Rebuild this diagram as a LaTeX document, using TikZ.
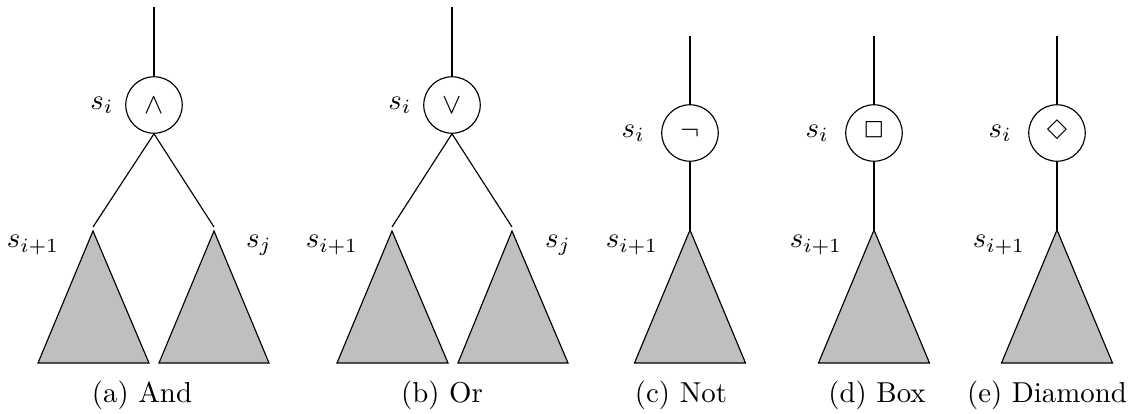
\documentclass[tikz,border=0pt]{standalone}
\usepackage{amsmath, latexsym}
\usepackage{tikz}
\usetikzlibrary{positioning}

\tikzset{
  op/.style={circle, draw, minimum size=19.6pt, inner sep=0pt},
  subtree/.style={draw, fill=black!25},
  lbl/.style={inner sep=0pt}
}

\begin{document}
\begin{tikzpicture}[x=0.347pt, y=-0.347pt]
  \useasboundingbox (0,0) rectangle (1139,414);

  % (a) And
  \coordinate (atop) at (154,7);
  \node[op] (aop) at (154,105) {$\wedge$};
  \node[lbl] (asi) at (102,105) {$s_i$};
  \coordinate (al) at (93,227);
  \coordinate (ar) at (214,227);
  \draw (atop) -- (aop);
  \draw (aop.south) -- (al);
  \draw (aop.south) -- (ar);
  \filldraw[subtree] (93,231) -- (149,363) -- (38,363) -- cycle;
  \filldraw[subtree] (214,231) -- (269,363) -- (159,363) -- cycle;
  \node[lbl] (asl) at (33,245) {$s_{i+1}$};
  \node[lbl] (asr) at (259,245) {$s_j$};
  \node (acap) at (142,395) {(a) And};

  % (b) Or
  \coordinate (btop) at (452,7);
  \node[op] (bop) at (452,105) {$\vee$};
  \node[lbl] (bsi) at (400,105) {$s_i$};
  \coordinate (bl) at (392,227);
  \coordinate (br) at (512,227);
  \draw (btop) -- (bop);
  \draw (bop.south) -- (bl);
  \draw (bop.south) -- (br);
  \filldraw[subtree] (392,231) -- (448,363) -- (337,363) -- cycle;
  \filldraw[subtree] (512,231) -- (568,363) -- (458,363) -- cycle;
  \node[lbl] (bsl) at (332,245) {$s_{i+1}$};
  \node[lbl] (bsr) at (558,245) {$s_j$};
  \node (bcap) at (442,395) {(b) Or};

  % (c)--(e) unary operators
  \foreach \n/\x/\sym/\capx/\capt in {c/690/\neg/681/(c) Not, d/874/\Box/877/(d) Box, e/1057/\Diamond/1047/(e) Diamond}{
    \coordinate (\n top) at (\x,36);
    \node[op] (\n op) at (\x,133) {$\sym$};
    \node[lbl, left=16*0.347pt of \n op] (\n si) {$s_i$};
    \coordinate (\n c) at (\x,230);
    \draw (\n top) -- (\n op);
    \draw (\n op) -- (\n c);
    \filldraw[subtree] (\n c) -- ++(55.5,133) -- ++(-111,0) -- cycle;
    \node[lbl] (\n sl) at (\x-58,245) {$s_{i+1}$};
    \node (\n cap) at (\capx,395) {\capt};
  }
\end{tikzpicture}
\end{document}
